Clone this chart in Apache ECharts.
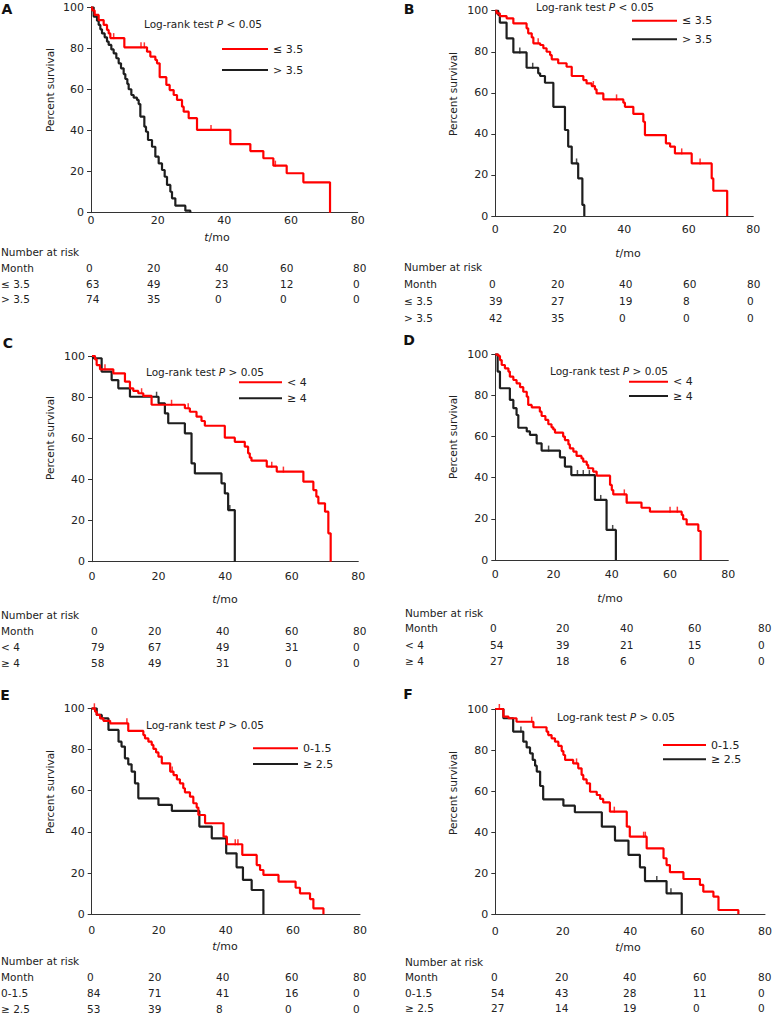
<!DOCTYPE html>
<html><head><meta charset="utf-8">
<script src="https://cdn.jsdelivr.net/npm/echarts@6/dist/echarts.min.js"></script>
<style>html,body{margin:0;padding:0;background:#fff}#c{width:783px;height:1027px}</style>
</head><body><div id="c"></div>
<script>
// ---------- DATA (Kaplan-Meier step points: [month, percent survival]) ----------
const monthTicks = [0, 20, 40, 60, 80];

const aLow = [[0,100],[0.4,98.5],[1.1,96.3],[2.3,93.8],[3.8,91.4],[4.8,89],[5.3,87.3],[5.8,85],[10,80.5],[16.8,78.4],[17.8,76],[19.3,74.4],[19.8,72.7],[20.6,66],[22.6,62.2],[23.6,59.7],[24.8,57.3],[25.8,54.9],[27.3,51.6],[27.8,49.2],[29.3,46],[31.8,40.3],[41.8,33.4],[47.8,30],[51.7,26.5],[54.7,22.9],[58.7,19.2],[63.7,14.8],[71.7,0]];
const aHigh = [[0,100],[0.8,95.5],[1.8,93.5],[2.3,91.4],[2.8,89.3],[3.3,87.3],[4.1,85.4],[4.8,83.3],[5.3,81.7],[6.1,79.5],[6.8,77.6],[7.6,75.2],[8.3,72.7],[9,70.3],[9.8,67.5],[10.3,65.1],[10.9,62.7],[11.3,60.1],[12.1,57.3],[12.8,56],[13.8,54.9],[14.3,52.9],[14.8,46.8],[16,41.9],[16.5,39.4],[17.1,35.4],[18.3,32.1],[19.3,27.3],[20.3,24],[21.3,20.8],[22.1,17.5],[22.8,13.5],[23.8,10.2],[24.3,7],[25.3,3.4],[28.3,1],[29.8,0]];
const aLowCens = [6.8, 15, 16, 36, 55.3];
const aHighCens = [];

const bLow = [[0,100],[0.4,98.7],[1.4,97.4],[3.5,96.3],[5.6,93.8],[9.7,91.4],[10.2,89],[11.3,87],[11.8,84.1],[13.9,83.3],[14.9,81.7],[15.9,80],[17,78.4],[17.5,76.3],[19.5,74.4],[22.1,72.7],[23.7,68.2],[27.3,66.2],[28.3,64.6],[29.9,63.3],[30.9,61.7],[31.4,59.7],[33.5,56.8],[39.7,55.2],[40.2,53.2],[42.8,49.7],[45.9,45.9],[46.4,39.4],[52.9,35.4],[54.2,33.8],[55.7,30.5],[60.9,25.6],[67.1,18.3],[67.6,12.3],[71.9,0]];
const bHigh = [[0,100],[0.9,97.9],[1.4,94.2],[3.5,86.5],[5.6,79.7],[9.7,72.2],[13.3,69.5],[13.9,68.2],[15.4,64.9],[18,53.2],[21.6,41.9],[22.6,33.8],[23.7,25.6],[25.7,18.3],[27,5.4],[27.6,0]];
const bLowCens = [13.3, 30.4, 37.6, 57.8, 63.5];
const bHighCens = [7.6, 11.6, 25.2];

const cLow = [[0,100],[0.9,98.4],[1.4,95.6],[2.4,93.5],[6.4,91.6],[9.9,87.5],[11.4,84.3],[12.4,83],[13.9,81.9],[15.4,80.6],[17.9,76.3],[27.9,74.6],[29.4,72.9],[31.4,70.5],[32.9,68.4],[33.9,66.1],[39.9,60.3],[42.9,58.3],[45.9,55.9],[46.9,52.7],[47.4,50.6],[47.9,49.1],[52.5,46.2],[55.5,43.8],[63.5,38.9],[66.5,34.8],[67.4,31.6],[68,28.4],[70,24.3],[71,13.8],[71.7,0]];
const cHigh = [[0,100],[0.3,98.9],[2.9,92.4],[5.9,88.3],[7.9,84.3],[11.4,80.2],[20,77],[21.9,72.1],[22.9,67.3],[27.9,62.4],[29.9,47.8],[30.9,42.9],[38.9,38.1],[39.9,33.2],[40.9,25.1],[42.9,0]];
const cLowCens = [3.9, 14.9, 23.9, 28.9, 54, 57.5];
const cHighCens = [19.4, 41.4];

const dLow = [[0,100],[1,99.2],[1.6,97.2],[2.2,94.8],[3.3,93.2],[4.5,91.6],[5,89.1],[6.2,87.5],[7.3,85.9],[8.5,84],[9.6,81.8],[10.8,79.4],[11.3,75.4],[12.5,74.2],[15.3,72.1],[15.9,70],[17.2,68.1],[18.2,66],[19.3,64.5],[19.9,63.5],[20.5,61.9],[23.3,60],[23.9,58.3],[25.1,56.2],[25.6,54.3],[26.8,52.7],[27.9,50.6],[29.6,49.4],[30.2,47.8],[31.4,46.2],[31.9,44.6],[33.6,43],[34.8,41],[39.4,36.5],[40,34],[40.5,31.9],[45.1,27.9],[50.2,25.4],[53.1,23.5],[64,21.9],[64.5,19.8],[65.7,17.3],[69.7,14.1],[70.5,0]];
const dHigh = [[0,100],[0.8,91.6],[1.6,83.5],[5,77.8],[6.2,73.8],[7.3,70.5],[7.9,64.3],[10.8,62.5],[11.9,60.8],[14.2,56.7],[15.9,53.2],[22.2,49.9],[23.9,45.4],[26.1,41.3],[34.2,29.2],[38.2,14.6],[41.4,0]];
const dLowCens = [44.3, 45.1, 60, 62.5];
const dHighCens = [18.3, 28.2, 30.2, 32.3, 36.2, 40.3];

const eLow = [[0,100],[1,98.4],[1.5,96.8],[2.5,95.1],[3.5,93.9],[5.5,92.7],[10.9,89],[15.4,87],[15.9,85.4],[16.9,83.8],[17.9,82.2],[18.4,80.3],[19.2,78.6],[19.9,76.5],[20.9,73.3],[23.4,69.3],[24.4,67.6],[25.4,65.5],[26.3,63.6],[27.3,61.2],[27.8,59.2],[29.3,57.1],[30.3,53.9],[31.3,51.8],[31.8,48.2],[33.8,44.2],[39.3,37.7],[40.3,34],[44.9,28.8],[49.2,23.9],[50.2,21.5],[51.2,19.1],[55.7,15.9],[60.8,12.9],[62.1,10.2],[65.1,7.4],[66.1,2.9],[69.1,0]];
const eHigh = [[0,100],[1.5,96.8],[3,95.1],[5,89.5],[8,83.8],[8.9,81.4],[9.9,75.7],[10.9,72.8],[11.9,69.3],[12.9,63.6],[13.9,56.3],[19.9,53.1],[23.9,50.2],[32.1,42.6],[35.8,36.9],[40.1,29.6],[43.2,22.8],[45.1,16.7],[47.7,11.8],[51.2,0]];
const eLowCens = [0.8, 10.5, 24, 42.8, 43.6];
const eHighCens = [];

const fLow = [[0,100],[2.4,96.3],[3.9,95.5],[6.3,93.8],[11.3,91.1],[15.2,89],[15.7,87.3],[16.7,85.7],[17.7,84.1],[18.7,82],[19.7,79.5],[20.2,77.6],[20.7,75.2],[23.1,73.5],[24.6,71.1],[25.6,67.9],[26.1,65.7],[27.1,63.8],[28.1,59.7],[30.1,58.1],[31.1,56.2],[32,54.5],[34,50],[39,42.7],[39.9,37.8],[44.9,32.1],[49.9,27.3],[50.8,24],[51.8,20.5],[55.8,17.2],[60.7,14.3],[61.7,11],[64.7,8.6],[66.2,2.1],[72.1,0]];
const fHigh = [[0,100],[2.4,95.5],[5.3,89],[8.3,84.1],[9.3,81.3],[10.3,78.4],[11.1,75.2],[11.8,72.4],[12.3,69.5],[13.3,62.5],[14.2,56],[20.2,52.9],[23.6,49.7],[31.6,42.7],[35.5,35.9],[39.5,28.9],[42.9,22.9],[44.4,16.2],[50.8,10.2],[55.3,0]];
const fLowCens = [1.2, 10.8, 24.1, 35.3, 44, 44.5];
const fHighCens = [7.6, 47.9, 52.1];

// Number at risk tables
const riskALow = [63, 49, 23, 12, 0],  riskAHigh = [74, 35, 0, 0, 0];
const riskBLow = [39, 27, 19, 8, 0],   riskBHigh = [42, 35, 0, 0, 0];
const riskCLow = [79, 67, 49, 31, 0],  riskCHigh = [58, 49, 31, 0, 0];
const riskDLow = [54, 39, 21, 15, 0],  riskDHigh = [27, 18, 6, 0, 0];
const riskELow = [84, 71, 41, 16, 0],  riskEHigh = [53, 39, 8, 0, 0];
const riskFLow = [54, 43, 28, 11, 0],  riskFHigh = [27, 14, 19, 0, 0];

const groupNames = {A:['≤ 3.5','> 3.5'], B:['≤ 3.5','> 3.5'], C:['< 4','≥ 4'], D:['< 4','≥ 4'], E:['0-1.5','≥ 2.5'], F:['0-1.5','≥ 2.5']};
const pSigns = {A:'<', B:'<', C:'>', D:'>', E:'>', F:'>'};

// ---------- LAYOUT ----------
const FONT = 'DejaVu Sans';
const RED = '#ff0000', BLACK = '#1e1e1e', TXT = '#222';

const panels = [
 {k:'A', low:aLow, high:aHigh, lowC:aLowCens, highC:aHighCens, risk:[riskALow,riskAHigh],
  grid:{left:91,top:7.3,width:266.7,height:205.4}, lm:2, letter:[7,9], pPos:[203,24], yName:[50,90],
  leg:{x:222,w:46,y:49,sp:21}, tb:{lx:1, cols:[86,147,215,280,353], tmo:[217,237], rows:[252,268,284,299]}},
 {k:'B', low:bLow, high:bHigh, lowC:bLowCens, highC:bHighCens, risk:[riskBLow,riskBHigh],
  grid:{left:495.3,top:10.7,width:258,height:205.3}, lm:8, letter:[409,8.5], pPos:[595,7], yName:[453,94],
  leg:{x:632,w:45,y:20.7,sp:18.6}, tb:{lx:404, cols:[489,551,619,683,747], tmo:[628,253], rows:[267,284,301,318]}},
 {k:'C', low:cLow, high:cHigh, lowC:cLowCens, highC:cHighCens, risk:[riskCLow,riskCHigh],
  grid:{left:92,top:356,width:266.3,height:205.7}, lm:9, letter:[8,343], pPos:[205,372], yName:[50,438],
  leg:{x:239,w:43,y:382.3,sp:16}, tb:{lx:1, cols:[91,148,216,285,353], tmo:[225,599], rows:[615,631,647,663]}},
 {k:'D', low:dLow, high:dHigh, lowC:dLowCens, highC:dHighCens, risk:[riskDLow,riskDHigh],
  grid:{left:495.3,top:354.3,width:233,height:205.7}, lm:9, letter:[409,340], pPos:[609,370.7], yName:[453,437],
  leg:{x:629,w:39,y:381.7,sp:14.3}, tb:{lx:405, cols:[490,556,620,688,758], tmo:[610,598], rows:[613,628,645,661]}},
 {k:'E', low:eLow, high:eHigh, lowC:eLowCens, highC:eHighCens, risk:[riskELow,riskEHigh],
  grid:{left:91.7,top:708.3,width:268.3,height:206}, lm:11, letter:[5,695], pPos:[205,725], yName:[50,792],
  leg:{x:253,w:45,y:748.3,sp:15.7}, tb:{lx:1, cols:[87,148,216,285,353], tmo:[225,946], rows:[961,977,993,1009]}},
 {k:'F', low:fLow, high:fHigh, lowC:fLowCens, highC:fHighCens, risk:[riskFLow,riskFHigh],
  grid:{left:495.3,top:709,width:269.7,height:205.3}, lm:12, letter:[408,694], pPos:[616,717.3], yName:[453,793],
  leg:{x:663,w:43,y:745,sp:14.3}, tb:{lx:405, cols:[491,555,623,693,758], tmo:[628,947], rows:[962,977,993,1008]}}
];

function survAt(curve, t) {
  let s = curve[0][1];
  for (const [x, y] of curve) { if (x <= t) s = y; else break; }
  return s;
}

const grids = [], xAxes = [], yAxes = [], series = [], legends = [], graphics = [];
const axisLineStyle = {color: '#333', width: 1};

panels.forEach((p, i) => {
  const [nLow, nHigh] = groupNames[p.k];
  grids.push({left: p.grid.left, top: p.grid.top, width: p.grid.width, height: p.grid.height, containLabel: false, outerBoundsMode: 'none'});
  xAxes.push({gridIndex: i, type: 'value', min: 0, max: 80, interval: 20,
    axisLine: {show: true, onZero: false, lineStyle: axisLineStyle}, axisTick: {show: false}, splitLine: {show: false},
    axisLabel: {margin: p.lm, fontSize: 11, color: TXT, fontFamily: FONT}});
  yAxes.push({gridIndex: i, type: 'value', min: 0, max: 100, interval: 20,
    axisLine: {show: true, onZero: false, lineStyle: axisLineStyle}, axisTick: {show: true, length: 4, lineStyle: axisLineStyle}, splitLine: {show: false},
    axisLabel: {margin: 7, fontSize: 11, color: TXT, fontFamily: FONT}});
  series.push({type: 'line', name: nHigh, xAxisIndex: i, yAxisIndex: i, data: p.high, step: 'end', showSymbol: false,
    lineStyle: {color: BLACK, width: 2.2}, itemStyle: {color: BLACK}, z: 2});
  series.push({type: 'line', name: nLow, xAxisIndex: i, yAxisIndex: i, data: p.low, step: 'end', showSymbol: false,
    lineStyle: {color: RED, width: 2.2}, itemStyle: {color: RED}, z: 3});
  series.push({type: 'scatter', name: 'cens-' + p.k + '-h', xAxisIndex: i, yAxisIndex: i,
    data: p.highC.map(t => [t, survAt(p.high, t)]), symbol: 'rect', symbolSize: [1.5, 6], symbolOffset: [0, -2],
    itemStyle: {color: BLACK}, z: 2});
  series.push({type: 'scatter', name: 'cens-' + p.k + '-l', xAxisIndex: i, yAxisIndex: i,
    data: p.lowC.map(t => [t, survAt(p.low, t)]), symbol: 'rect', symbolSize: [1.5, 6], symbolOffset: [0, -2],
    itemStyle: {color: RED}, z: 3});
  legends.push({data: [nLow, nHigh], orient: 'vertical', left: p.leg.x, top: p.leg.y - 6, padding: 0,
    itemWidth: p.leg.w, itemHeight: 2, itemGap: p.leg.sp - 12, icon: 'rect', selectedMode: false,
    textStyle: {fontSize: 11, lineHeight: 12, color: TXT, fontFamily: FONT}});

  // panel letter
  graphics.push({type: 'text', x: p.letter[0], y: p.letter[1],
    style: {text: p.k, font: 'bold 14px ' + FONT, fill: '#111', align: 'center', verticalAlign: 'middle'}});
  // log-rank annotation
  graphics.push({type: 'text', x: p.pPos[0], y: p.pPos[1],
    style: {text: '{n|Log-rank test }{i|P}{n| ' + pSigns[p.k] + ' 0.05}', align: 'center', verticalAlign: 'middle',
      rich: {n: {fontSize: 10.5, fontFamily: FONT, fill: TXT}, i: {fontSize: 10.5, fontFamily: FONT, fontStyle: 'italic', fill: TXT}}}});
  // y axis name
  graphics.push({type: 'text', x: p.yName[0], y: p.yName[1], rotation: Math.PI / 2,
    style: {text: 'Percent survival', fontSize: 10.5, fontFamily: FONT, fill: TXT, align: 'center', verticalAlign: 'middle'}});
  // x axis name
  graphics.push({type: 'text', x: p.tb.tmo[0], y: p.tb.tmo[1],
    style: {text: '{i|t}{n|/mo}', align: 'center', verticalAlign: 'middle',
      rich: {n: {fontSize: 11, fontFamily: FONT, fill: TXT}, i: {fontSize: 11, fontFamily: FONT, fontStyle: 'italic', fill: TXT}}}});
  // number at risk table
  const rowLabels = ['Number at risk', 'Month', nLow, nHigh];
  const rowVals = [null, monthTicks, p.risk[0], p.risk[1]];
  rowLabels.forEach((lab, r) => {
    graphics.push({type: 'text', x: p.tb.lx, y: p.tb.rows[r],
      style: {text: lab, fontSize: 10.5, fontFamily: FONT, fill: TXT, align: 'left', verticalAlign: 'middle'}});
    if (rowVals[r]) rowVals[r].forEach((v, c) => {
      graphics.push({type: 'text', x: p.tb.cols[c], y: p.tb.rows[r],
        style: {text: String(v), fontSize: 10.5, fontFamily: FONT, fill: TXT, align: 'left', verticalAlign: 'middle'}});
    });
  });
});

const chart = echarts.init(document.getElementById('c'), null, {renderer: 'svg'});
chart.setOption({
  animation: false,
  backgroundColor: '#fff',
  textStyle: {fontFamily: FONT},
  grid: grids, xAxis: xAxes, yAxis: yAxes, series: series, legend: legends,
  graphic: {elements: graphics}
});
</script>
</body></html>
